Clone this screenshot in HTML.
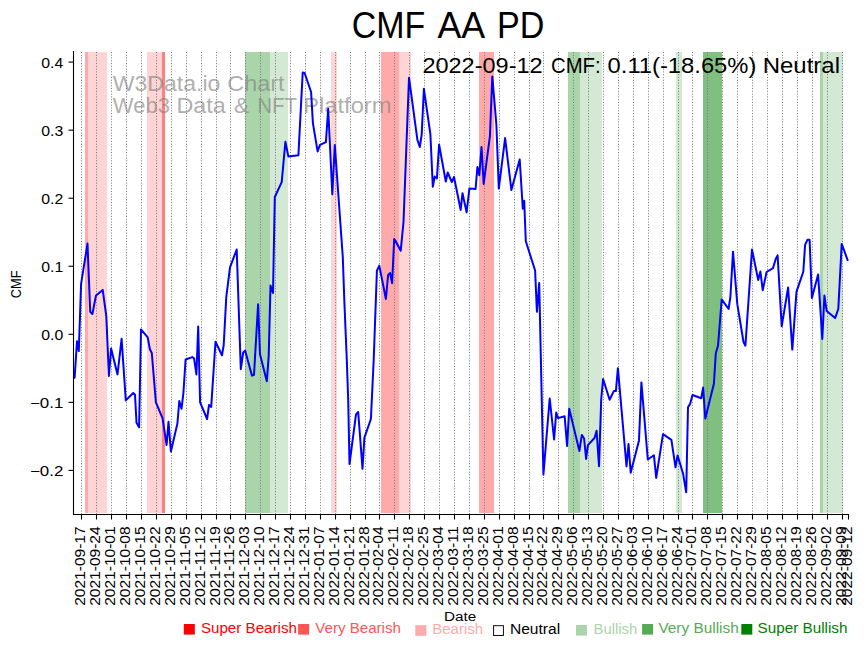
<!DOCTYPE html>
<html><head><meta charset="utf-8"><title>CMF AA PD</title>
<style>
html,body{margin:0;padding:0;background:#fff;}
svg{display:block;}
text{font-family:"Liberation Sans",sans-serif;}
</style></head>
<body>
<svg width="867" height="646" viewBox="0 0 867 646">
<rect x="0" y="0" width="867" height="646" fill="#ffffff"/>
<g shape-rendering="crispEdges">
<rect x="84.9" y="52.0" width="3.2" height="461.0" fill="#ffaaaa"/>
<rect x="88.1" y="52.0" width="18.9" height="461.0" fill="#ffd4d4"/>
<rect x="147.0" y="52.0" width="15.0" height="461.0" fill="#ffd4d4"/>
<rect x="162.0" y="52.0" width="3.1" height="461.0" fill="#ff8080"/>
<rect x="245.1" y="52.0" width="24.8" height="461.0" fill="#aad4aa"/>
<rect x="269.9" y="52.0" width="18.1" height="461.0" fill="#d4e9d4"/>
<rect x="331.0" y="52.0" width="5.9" height="461.0" fill="#ffd4d4"/>
<rect x="381.0" y="52.0" width="17.8" height="461.0" fill="#ffaaaa"/>
<rect x="398.8" y="52.0" width="12.1" height="461.0" fill="#ffd4d4"/>
<rect x="478.9" y="52.0" width="15.0" height="461.0" fill="#ffaaaa"/>
<rect x="568.0" y="52.0" width="12.0" height="461.0" fill="#aad4aa"/>
<rect x="580.0" y="52.0" width="22.1" height="461.0" fill="#d4e9d4"/>
<rect x="676.0" y="52.0" width="5.9" height="461.0" fill="#d4e9d4"/>
<rect x="703.0" y="52.0" width="19.2" height="461.0" fill="#80bf80"/>
<rect x="820.1" y="52.0" width="2.9" height="461.0" fill="#aad4aa"/>
<rect x="823.0" y="52.0" width="19.6" height="461.0" fill="#d4e9d4"/>
</g>
<g stroke="#777777" stroke-width="1.0" stroke-dasharray="1.05 1.729">
<line x1="81.50" y1="514.3" x2="81.50" y2="52.0"/>
<line x1="96.50" y1="514.3" x2="96.50" y2="52.0"/>
<line x1="111.50" y1="514.3" x2="111.50" y2="52.0"/>
<line x1="126.50" y1="514.3" x2="126.50" y2="52.0"/>
<line x1="141.50" y1="514.3" x2="141.50" y2="52.0"/>
<line x1="156.50" y1="514.3" x2="156.50" y2="52.0"/>
<line x1="171.50" y1="514.3" x2="171.50" y2="52.0"/>
<line x1="186.50" y1="514.3" x2="186.50" y2="52.0"/>
<line x1="201.50" y1="514.3" x2="201.50" y2="52.0"/>
<line x1="216.50" y1="514.3" x2="216.50" y2="52.0"/>
<line x1="230.50" y1="514.3" x2="230.50" y2="52.0"/>
<line x1="245.50" y1="514.3" x2="245.50" y2="52.0"/>
<line x1="260.50" y1="514.3" x2="260.50" y2="52.0"/>
<line x1="275.50" y1="514.3" x2="275.50" y2="52.0"/>
<line x1="290.50" y1="514.3" x2="290.50" y2="52.0"/>
<line x1="305.50" y1="514.3" x2="305.50" y2="52.0"/>
<line x1="320.50" y1="514.3" x2="320.50" y2="52.0"/>
<line x1="335.50" y1="514.3" x2="335.50" y2="52.0"/>
<line x1="350.50" y1="514.3" x2="350.50" y2="52.0"/>
<line x1="365.50" y1="514.3" x2="365.50" y2="52.0"/>
<line x1="379.50" y1="514.3" x2="379.50" y2="52.0"/>
<line x1="394.50" y1="514.3" x2="394.50" y2="52.0"/>
<line x1="409.50" y1="514.3" x2="409.50" y2="52.0"/>
<line x1="424.50" y1="514.3" x2="424.50" y2="52.0"/>
<line x1="439.50" y1="514.3" x2="439.50" y2="52.0"/>
<line x1="454.50" y1="514.3" x2="454.50" y2="52.0"/>
<line x1="469.50" y1="514.3" x2="469.50" y2="52.0"/>
<line x1="484.50" y1="514.3" x2="484.50" y2="52.0"/>
<line x1="499.50" y1="514.3" x2="499.50" y2="52.0"/>
<line x1="514.50" y1="514.3" x2="514.50" y2="52.0"/>
<line x1="529.50" y1="514.3" x2="529.50" y2="52.0"/>
<line x1="543.50" y1="514.3" x2="543.50" y2="52.0"/>
<line x1="558.50" y1="514.3" x2="558.50" y2="52.0"/>
<line x1="573.50" y1="514.3" x2="573.50" y2="52.0"/>
<line x1="588.50" y1="514.3" x2="588.50" y2="52.0"/>
<line x1="603.50" y1="514.3" x2="603.50" y2="52.0"/>
<line x1="618.50" y1="514.3" x2="618.50" y2="52.0"/>
<line x1="633.50" y1="514.3" x2="633.50" y2="52.0"/>
<line x1="648.50" y1="514.3" x2="648.50" y2="52.0"/>
<line x1="663.50" y1="514.3" x2="663.50" y2="52.0"/>
<line x1="678.50" y1="514.3" x2="678.50" y2="52.0"/>
<line x1="692.50" y1="514.3" x2="692.50" y2="52.0"/>
<line x1="707.50" y1="514.3" x2="707.50" y2="52.0"/>
<line x1="722.50" y1="514.3" x2="722.50" y2="52.0"/>
<line x1="737.50" y1="514.3" x2="737.50" y2="52.0"/>
<line x1="752.50" y1="514.3" x2="752.50" y2="52.0"/>
<line x1="767.50" y1="514.3" x2="767.50" y2="52.0"/>
<line x1="782.50" y1="514.3" x2="782.50" y2="52.0"/>
<line x1="797.50" y1="514.3" x2="797.50" y2="52.0"/>
<line x1="812.50" y1="514.3" x2="812.50" y2="52.0"/>
<line x1="827.50" y1="514.3" x2="827.50" y2="52.0"/>
<line x1="842.50" y1="514.3" x2="842.50" y2="52.0"/>
</g>
<g fill="#808080" fill-opacity="0.64" font-size="21.4">
<text x="112.8" y="90.5" textLength="107.54" lengthAdjust="spacingAndGlyphs">W3Data.io</text>
<text x="227.2" y="90.5" textLength="57.44" lengthAdjust="spacingAndGlyphs">Chart</text>
<text x="112.8" y="113.3" textLength="57.11" lengthAdjust="spacingAndGlyphs">Web3</text>
<text x="176.52" y="113.3" textLength="49.29" lengthAdjust="spacingAndGlyphs">Data</text>
<text x="234.04" y="113.3" textLength="15.16" lengthAdjust="spacingAndGlyphs">&amp;</text>
<text x="257.18" y="113.3" textLength="39.99" lengthAdjust="spacingAndGlyphs">NFT</text>
<text x="303.18" y="113.3" textLength="88.34" lengthAdjust="spacingAndGlyphs">Platform</text>
</g>
<polyline points="73.0,378.0 74.6,377.8 77.0,341.3 78.8,351.1 81.1,283.8 87.5,243.6 90.2,311.7 92.4,314.0 96.0,295.5 102.7,289.9 106.3,316.0 108.9,376.0 111.1,348.6 117.5,374.4 121.6,338.8 125.8,400.4 133.2,393.0 135.0,394.8 136.5,422.7 139.1,427.3 141.0,329.4 147.7,337.4 149.9,349.3 151.8,353.0 155.9,402.3 162.5,418.1 166.6,445.0 168.5,421.8 170.9,451.5 177.4,423.6 179.3,401.0 181.5,408.8 183.4,393.0 185.6,359.5 192.3,357.1 194.1,358.6 196.4,374.4 198.2,326.6 200.1,402.3 207.1,419.0 209.0,405.0 211.2,406.9 215.5,341.7 222.0,355.3 223.7,345.0 226.3,296.8 230.0,267.4 236.7,249.5 240.8,369.2 243.2,352.5 245.1,350.6 252.0,375.7 254.0,374.8 258.1,304.2 260.0,354.3 266.8,381.3 268.7,356.2 270.5,285.6 273.0,293.0 274.8,197.0 281.7,182.1 285.4,141.8 288.4,156.6 298.4,155.3 302.7,72.6 304.6,73.0 311.1,92.0 312.9,123.2 317.6,151.4 320.0,144.9 325.9,142.1 328.2,108.7 332.3,194.2 334.8,145.1 342.8,257.2 344.3,300.0 346.8,360.0 348.2,400.0 349.5,464.0 356.0,414.4 358.2,412.0 362.5,468.8 364.4,437.6 370.9,419.0 373.7,360.0 376.9,270.7 379.3,265.6 385.9,299.0 388.1,275.0 390.1,273.0 392.1,283.2 394.2,239.0 395.3,240.5 400.7,250.8 403.5,222.0 409.0,77.7 417.4,139.9 419.8,147.0 421.7,134.3 423.9,88.8 430.4,134.3 432.8,186.7 434.7,176.5 436.9,178.4 439.1,144.6 445.8,181.5 447.7,172.5 451.8,182.1 454.0,177.0 460.7,210.0 462.5,193.2 466.6,212.4 469.4,188.6 475.6,189.0 477.4,167.0 479.3,175.2 481.5,147.0 483.7,183.9 489.9,136.2 492.3,76.4 496.4,125.0 498.8,188.6 505.1,138.1 511.4,190.1 519.7,159.5 522.8,208.7 524.2,200.7 525.8,241.2 535.1,270.5 536.9,311.8 539.2,283.0 543.4,474.6 549.7,398.5 554.1,439.5 556.2,412.5 558.1,418.1 564.6,416.2 567.1,446.0 569.2,408.8 579.4,451.0 581.8,434.9 584.1,438.5 586.1,458.9 587.9,445.1 594.5,438.0 596.6,430.7 599.0,466.3 601.2,399.5 603.1,379.0 609.6,399.8 613.8,391.1 615.9,391.1 617.9,368.2 626.5,466.3 628.5,444.1 630.7,472.7 639.0,440.4 641.4,382.4 647.8,459.5 653.9,455.2 656.2,477.9 663.0,434.2 671.4,439.8 675.5,467.3 677.6,455.5 683.1,473.8 686.2,492.3 688.0,407.3 690.1,403.9 692.5,395.0 701.3,398.2 703.1,387.6 705.3,418.5 713.9,383.8 715.8,353.2 718.0,345.8 721.7,299.4 728.6,309.0 730.4,296.6 733.0,251.7 737.3,304.2 743.5,342.0 745.4,345.7 752.0,249.5 758.2,280.0 760.4,271.5 762.7,290.2 766.6,272.0 773.0,268.1 775.8,258.8 777.6,255.4 781.7,326.3 788.1,287.5 792.3,349.6 796.5,291.6 803.3,271.8 805.1,244.8 807.4,239.8 809.6,239.8 811.9,298.0 818.1,274.4 822.3,339.0 824.4,295.6 826.7,311.1 835.1,318.1 838.3,309.0 841.7,243.9 847.9,260.8" fill="none" stroke="#0000ff" stroke-width="2.0" stroke-linejoin="round" stroke-linecap="butt"/>
<g font-size="21.4" fill="#000">
<text x="422.4" y="72.6" textLength="120.26" lengthAdjust="spacingAndGlyphs">2022-09-12</text>
<text x="550.95" y="72.6" textLength="49.72" lengthAdjust="spacingAndGlyphs">CMF:</text>
<text x="607.59" y="72.6" textLength="148.79" lengthAdjust="spacingAndGlyphs">0.11(-18.65%)</text>
<text x="762.76" y="72.6" textLength="77.22" lengthAdjust="spacingAndGlyphs">Neutral</text>
</g>
<g stroke="#000" stroke-width="1.1">
<line x1="73.5" y1="51.0" x2="73.5" y2="515.0"/>
<line x1="73.0" y1="514.5" x2="849" y2="514.5"/>
<line x1="68.5" y1="62.10" x2="73.4" y2="62.10"/>
<line x1="68.5" y1="130.15" x2="73.4" y2="130.15"/>
<line x1="68.5" y1="198.20" x2="73.4" y2="198.20"/>
<line x1="68.5" y1="266.25" x2="73.4" y2="266.25"/>
<line x1="68.5" y1="334.30" x2="73.4" y2="334.30"/>
<line x1="68.5" y1="402.35" x2="73.4" y2="402.35"/>
<line x1="68.5" y1="470.40" x2="73.4" y2="470.40"/>
<line x1="81.50" y1="514.5" x2="81.50" y2="519.5"/>
<line x1="96.50" y1="514.5" x2="96.50" y2="519.5"/>
<line x1="111.50" y1="514.5" x2="111.50" y2="519.5"/>
<line x1="126.50" y1="514.5" x2="126.50" y2="519.5"/>
<line x1="141.50" y1="514.5" x2="141.50" y2="519.5"/>
<line x1="156.50" y1="514.5" x2="156.50" y2="519.5"/>
<line x1="171.50" y1="514.5" x2="171.50" y2="519.5"/>
<line x1="186.50" y1="514.5" x2="186.50" y2="519.5"/>
<line x1="201.50" y1="514.5" x2="201.50" y2="519.5"/>
<line x1="216.50" y1="514.5" x2="216.50" y2="519.5"/>
<line x1="230.50" y1="514.5" x2="230.50" y2="519.5"/>
<line x1="245.50" y1="514.5" x2="245.50" y2="519.5"/>
<line x1="260.50" y1="514.5" x2="260.50" y2="519.5"/>
<line x1="275.50" y1="514.5" x2="275.50" y2="519.5"/>
<line x1="290.50" y1="514.5" x2="290.50" y2="519.5"/>
<line x1="305.50" y1="514.5" x2="305.50" y2="519.5"/>
<line x1="320.50" y1="514.5" x2="320.50" y2="519.5"/>
<line x1="335.50" y1="514.5" x2="335.50" y2="519.5"/>
<line x1="350.50" y1="514.5" x2="350.50" y2="519.5"/>
<line x1="365.50" y1="514.5" x2="365.50" y2="519.5"/>
<line x1="379.50" y1="514.5" x2="379.50" y2="519.5"/>
<line x1="394.50" y1="514.5" x2="394.50" y2="519.5"/>
<line x1="409.50" y1="514.5" x2="409.50" y2="519.5"/>
<line x1="424.50" y1="514.5" x2="424.50" y2="519.5"/>
<line x1="439.50" y1="514.5" x2="439.50" y2="519.5"/>
<line x1="454.50" y1="514.5" x2="454.50" y2="519.5"/>
<line x1="469.50" y1="514.5" x2="469.50" y2="519.5"/>
<line x1="484.50" y1="514.5" x2="484.50" y2="519.5"/>
<line x1="499.50" y1="514.5" x2="499.50" y2="519.5"/>
<line x1="514.50" y1="514.5" x2="514.50" y2="519.5"/>
<line x1="529.50" y1="514.5" x2="529.50" y2="519.5"/>
<line x1="543.50" y1="514.5" x2="543.50" y2="519.5"/>
<line x1="558.50" y1="514.5" x2="558.50" y2="519.5"/>
<line x1="573.50" y1="514.5" x2="573.50" y2="519.5"/>
<line x1="588.50" y1="514.5" x2="588.50" y2="519.5"/>
<line x1="603.50" y1="514.5" x2="603.50" y2="519.5"/>
<line x1="618.50" y1="514.5" x2="618.50" y2="519.5"/>
<line x1="633.50" y1="514.5" x2="633.50" y2="519.5"/>
<line x1="648.50" y1="514.5" x2="648.50" y2="519.5"/>
<line x1="663.50" y1="514.5" x2="663.50" y2="519.5"/>
<line x1="678.50" y1="514.5" x2="678.50" y2="519.5"/>
<line x1="692.50" y1="514.5" x2="692.50" y2="519.5"/>
<line x1="707.50" y1="514.5" x2="707.50" y2="519.5"/>
<line x1="722.50" y1="514.5" x2="722.50" y2="519.5"/>
<line x1="737.50" y1="514.5" x2="737.50" y2="519.5"/>
<line x1="752.50" y1="514.5" x2="752.50" y2="519.5"/>
<line x1="767.50" y1="514.5" x2="767.50" y2="519.5"/>
<line x1="782.50" y1="514.5" x2="782.50" y2="519.5"/>
<line x1="797.50" y1="514.5" x2="797.50" y2="519.5"/>
<line x1="812.50" y1="514.5" x2="812.50" y2="519.5"/>
<line x1="827.50" y1="514.5" x2="827.50" y2="519.5"/>
<line x1="842.50" y1="514.5" x2="842.50" y2="519.5"/>
<line x1="848.50" y1="514.5" x2="848.50" y2="519.5"/>
</g>
<g font-size="14" fill="#000">
<text x="63.3" y="68.00" text-anchor="end" textLength="22.0" lengthAdjust="spacingAndGlyphs">0.4</text>
<text x="63.3" y="136.05" text-anchor="end" textLength="22.0" lengthAdjust="spacingAndGlyphs">0.3</text>
<text x="63.3" y="204.10" text-anchor="end" textLength="22.0" lengthAdjust="spacingAndGlyphs">0.2</text>
<text x="63.3" y="272.15" text-anchor="end" textLength="22.0" lengthAdjust="spacingAndGlyphs">0.1</text>
<text x="63.3" y="340.20" text-anchor="end" textLength="22.0" lengthAdjust="spacingAndGlyphs">0.0</text>
<text x="63.3" y="408.25" text-anchor="end" textLength="33.4" lengthAdjust="spacingAndGlyphs">−0.1</text>
<text x="63.3" y="476.30" text-anchor="end" textLength="33.4" lengthAdjust="spacingAndGlyphs">−0.2</text>
<text transform="translate(85.38,566.1) rotate(-90)" text-anchor="middle" textLength="79.5" lengthAdjust="spacingAndGlyphs">2021-09-17</text>
<text transform="translate(100.28,566.1) rotate(-90)" text-anchor="middle" textLength="79.5" lengthAdjust="spacingAndGlyphs">2021-09-24</text>
<text transform="translate(115.19,566.1) rotate(-90)" text-anchor="middle" textLength="79.5" lengthAdjust="spacingAndGlyphs">2021-10-01</text>
<text transform="translate(130.09,566.1) rotate(-90)" text-anchor="middle" textLength="79.5" lengthAdjust="spacingAndGlyphs">2021-10-08</text>
<text transform="translate(145.00,566.1) rotate(-90)" text-anchor="middle" textLength="79.5" lengthAdjust="spacingAndGlyphs">2021-10-15</text>
<text transform="translate(159.90,566.1) rotate(-90)" text-anchor="middle" textLength="79.5" lengthAdjust="spacingAndGlyphs">2021-10-22</text>
<text transform="translate(174.81,566.1) rotate(-90)" text-anchor="middle" textLength="79.5" lengthAdjust="spacingAndGlyphs">2021-10-29</text>
<text transform="translate(189.71,566.1) rotate(-90)" text-anchor="middle" textLength="79.5" lengthAdjust="spacingAndGlyphs">2021-11-05</text>
<text transform="translate(204.62,566.1) rotate(-90)" text-anchor="middle" textLength="79.5" lengthAdjust="spacingAndGlyphs">2021-11-12</text>
<text transform="translate(219.52,566.1) rotate(-90)" text-anchor="middle" textLength="79.5" lengthAdjust="spacingAndGlyphs">2021-11-19</text>
<text transform="translate(234.43,566.1) rotate(-90)" text-anchor="middle" textLength="79.5" lengthAdjust="spacingAndGlyphs">2021-11-26</text>
<text transform="translate(249.33,566.1) rotate(-90)" text-anchor="middle" textLength="79.5" lengthAdjust="spacingAndGlyphs">2021-12-03</text>
<text transform="translate(264.24,566.1) rotate(-90)" text-anchor="middle" textLength="79.5" lengthAdjust="spacingAndGlyphs">2021-12-10</text>
<text transform="translate(279.14,566.1) rotate(-90)" text-anchor="middle" textLength="79.5" lengthAdjust="spacingAndGlyphs">2021-12-17</text>
<text transform="translate(294.05,566.1) rotate(-90)" text-anchor="middle" textLength="79.5" lengthAdjust="spacingAndGlyphs">2021-12-24</text>
<text transform="translate(308.95,566.1) rotate(-90)" text-anchor="middle" textLength="79.5" lengthAdjust="spacingAndGlyphs">2021-12-31</text>
<text transform="translate(323.86,566.1) rotate(-90)" text-anchor="middle" textLength="79.5" lengthAdjust="spacingAndGlyphs">2022-01-07</text>
<text transform="translate(338.76,566.1) rotate(-90)" text-anchor="middle" textLength="79.5" lengthAdjust="spacingAndGlyphs">2022-01-14</text>
<text transform="translate(353.67,566.1) rotate(-90)" text-anchor="middle" textLength="79.5" lengthAdjust="spacingAndGlyphs">2022-01-21</text>
<text transform="translate(368.57,566.1) rotate(-90)" text-anchor="middle" textLength="79.5" lengthAdjust="spacingAndGlyphs">2022-01-28</text>
<text transform="translate(383.48,566.1) rotate(-90)" text-anchor="middle" textLength="79.5" lengthAdjust="spacingAndGlyphs">2022-02-04</text>
<text transform="translate(398.38,566.1) rotate(-90)" text-anchor="middle" textLength="79.5" lengthAdjust="spacingAndGlyphs">2022-02-11</text>
<text transform="translate(413.29,566.1) rotate(-90)" text-anchor="middle" textLength="79.5" lengthAdjust="spacingAndGlyphs">2022-02-18</text>
<text transform="translate(428.19,566.1) rotate(-90)" text-anchor="middle" textLength="79.5" lengthAdjust="spacingAndGlyphs">2022-02-25</text>
<text transform="translate(443.10,566.1) rotate(-90)" text-anchor="middle" textLength="79.5" lengthAdjust="spacingAndGlyphs">2022-03-04</text>
<text transform="translate(458.00,566.1) rotate(-90)" text-anchor="middle" textLength="79.5" lengthAdjust="spacingAndGlyphs">2022-03-11</text>
<text transform="translate(472.91,566.1) rotate(-90)" text-anchor="middle" textLength="79.5" lengthAdjust="spacingAndGlyphs">2022-03-18</text>
<text transform="translate(487.81,566.1) rotate(-90)" text-anchor="middle" textLength="79.5" lengthAdjust="spacingAndGlyphs">2022-03-25</text>
<text transform="translate(502.72,566.1) rotate(-90)" text-anchor="middle" textLength="79.5" lengthAdjust="spacingAndGlyphs">2022-04-01</text>
<text transform="translate(517.62,566.1) rotate(-90)" text-anchor="middle" textLength="79.5" lengthAdjust="spacingAndGlyphs">2022-04-08</text>
<text transform="translate(532.53,566.1) rotate(-90)" text-anchor="middle" textLength="79.5" lengthAdjust="spacingAndGlyphs">2022-04-15</text>
<text transform="translate(547.43,566.1) rotate(-90)" text-anchor="middle" textLength="79.5" lengthAdjust="spacingAndGlyphs">2022-04-22</text>
<text transform="translate(562.34,566.1) rotate(-90)" text-anchor="middle" textLength="79.5" lengthAdjust="spacingAndGlyphs">2022-04-29</text>
<text transform="translate(577.24,566.1) rotate(-90)" text-anchor="middle" textLength="79.5" lengthAdjust="spacingAndGlyphs">2022-05-06</text>
<text transform="translate(592.15,566.1) rotate(-90)" text-anchor="middle" textLength="79.5" lengthAdjust="spacingAndGlyphs">2022-05-13</text>
<text transform="translate(607.05,566.1) rotate(-90)" text-anchor="middle" textLength="79.5" lengthAdjust="spacingAndGlyphs">2022-05-20</text>
<text transform="translate(621.96,566.1) rotate(-90)" text-anchor="middle" textLength="79.5" lengthAdjust="spacingAndGlyphs">2022-05-27</text>
<text transform="translate(636.87,566.1) rotate(-90)" text-anchor="middle" textLength="79.5" lengthAdjust="spacingAndGlyphs">2022-06-03</text>
<text transform="translate(651.77,566.1) rotate(-90)" text-anchor="middle" textLength="79.5" lengthAdjust="spacingAndGlyphs">2022-06-10</text>
<text transform="translate(666.67,566.1) rotate(-90)" text-anchor="middle" textLength="79.5" lengthAdjust="spacingAndGlyphs">2022-06-17</text>
<text transform="translate(681.58,566.1) rotate(-90)" text-anchor="middle" textLength="79.5" lengthAdjust="spacingAndGlyphs">2022-06-24</text>
<text transform="translate(696.49,566.1) rotate(-90)" text-anchor="middle" textLength="79.5" lengthAdjust="spacingAndGlyphs">2022-07-01</text>
<text transform="translate(711.39,566.1) rotate(-90)" text-anchor="middle" textLength="79.5" lengthAdjust="spacingAndGlyphs">2022-07-08</text>
<text transform="translate(726.29,566.1) rotate(-90)" text-anchor="middle" textLength="79.5" lengthAdjust="spacingAndGlyphs">2022-07-15</text>
<text transform="translate(741.20,566.1) rotate(-90)" text-anchor="middle" textLength="79.5" lengthAdjust="spacingAndGlyphs">2022-07-22</text>
<text transform="translate(756.11,566.1) rotate(-90)" text-anchor="middle" textLength="79.5" lengthAdjust="spacingAndGlyphs">2022-07-29</text>
<text transform="translate(771.01,566.1) rotate(-90)" text-anchor="middle" textLength="79.5" lengthAdjust="spacingAndGlyphs">2022-08-05</text>
<text transform="translate(785.91,566.1) rotate(-90)" text-anchor="middle" textLength="79.5" lengthAdjust="spacingAndGlyphs">2022-08-12</text>
<text transform="translate(800.82,566.1) rotate(-90)" text-anchor="middle" textLength="79.5" lengthAdjust="spacingAndGlyphs">2022-08-19</text>
<text transform="translate(815.72,566.1) rotate(-90)" text-anchor="middle" textLength="79.5" lengthAdjust="spacingAndGlyphs">2022-08-26</text>
<text transform="translate(830.63,566.1) rotate(-90)" text-anchor="middle" textLength="79.5" lengthAdjust="spacingAndGlyphs">2022-09-02</text>
<text transform="translate(845.53,566.1) rotate(-90)" text-anchor="middle" textLength="79.5" lengthAdjust="spacingAndGlyphs">2022-09-09</text>
<text transform="translate(851.92,566.1) rotate(-90)" text-anchor="middle" textLength="79.5" lengthAdjust="spacingAndGlyphs">2022-09-12</text>
</g>
<g font-size="36" fill="#000">
<text x="351.71" y="37.7" textLength="73.51" lengthAdjust="spacingAndGlyphs">CMF</text>
<text x="437.4" y="37.7" textLength="47.73" lengthAdjust="spacingAndGlyphs">AA</text>
<text x="497.06" y="37.7" textLength="47.35" lengthAdjust="spacingAndGlyphs">PD</text>
</g>
<text transform="translate(20.6,284.4) rotate(-90)" text-anchor="middle" font-size="13.9" fill="#000" textLength="27.8" lengthAdjust="spacingAndGlyphs">CMF</text>
<text x="444" y="620.8" font-size="13.7" fill="#000" textLength="32.2" lengthAdjust="spacingAndGlyphs">Date</text>
<g font-size="14">
<rect x="183.8" y="624.0" width="11" height="10.6" fill="#ff0000"/>
<text x="200.9" y="632.5" fill="#ff0000" textLength="96.1" lengthAdjust="spacingAndGlyphs">Super Bearish</text>
<rect x="298.1" y="624.0" width="11" height="10.6" fill="#ff5555"/>
<text x="315.3" y="632.5" fill="#ff5555" textLength="85.6" lengthAdjust="spacingAndGlyphs">Very Bearish</text>
<rect x="415.3" y="625.2" width="11" height="10.6" fill="#ffaaaa"/>
<text x="432.2" y="633.7" fill="#ffaaaa" textLength="50.9" lengthAdjust="spacingAndGlyphs">Bearish</text>
<rect x="493.6" y="625.7" width="9.8" height="9.8" fill="#fff" stroke="#000" stroke-width="0.95"/>
<text x="510.0" y="633.7" fill="#000000" textLength="50.1" lengthAdjust="spacingAndGlyphs">Neutral</text>
<rect x="576.0" y="625.0" width="11" height="10.6" fill="#aad4aa"/>
<text x="593.6" y="633.7" fill="#aad4aa" textLength="43.6" lengthAdjust="spacingAndGlyphs">Bullish</text>
<rect x="642.1" y="624.0" width="11" height="10.6" fill="#55aa55"/>
<text x="658.4" y="632.7" fill="#55aa55" textLength="80.4" lengthAdjust="spacingAndGlyphs">Very Bullish</text>
<rect x="741.3" y="624.0" width="11" height="10.6" fill="#008000"/>
<text x="757.6" y="632.7" fill="#008000" textLength="89.9" lengthAdjust="spacingAndGlyphs">Super Bullish</text>
</g>
</svg>
</body></html>
